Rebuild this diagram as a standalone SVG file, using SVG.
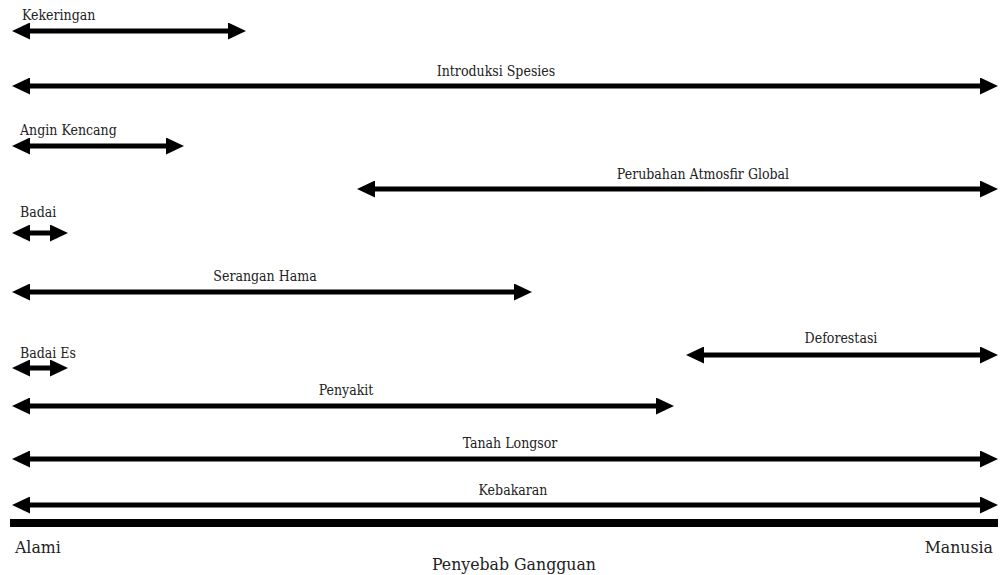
<svg xmlns="http://www.w3.org/2000/svg" width="1006" height="575" viewBox="0 0 1006 575">
<defs>
<marker id="ah" viewBox="0 0 18 17" refX="8" refY="8.5" markerWidth="18" markerHeight="17" markerUnits="userSpaceOnUse" orient="auto-start-reverse">
<path d="M0,0 L18,8.5 L0,17 z" fill="#000"/>
</marker>
<style>
.arr{stroke:#000;stroke-width:5;fill:none;marker-start:url(#ah);marker-end:url(#ah)}
.lb{font-family:"DejaVu Serif","Liberation Serif",serif;font-stretch:condensed;font-size:14px;fill:#222}
.ax{font-family:"DejaVu Serif","Liberation Serif",serif;font-stretch:condensed;font-size:17.5px;fill:#222}
.c{text-anchor:middle}
</style>
</defs>
<rect width="1006" height="575" fill="#fff"/>
<g id="connectors">
<line class="arr" x1="22" y1="31" x2="236" y2="31"/>
<line class="arr" x1="22" y1="86" x2="988" y2="86"/>
<line class="arr" x1="22" y1="146" x2="174" y2="146"/>
<line class="arr" x1="367" y1="189" x2="988" y2="189"/>
<line class="arr" x1="22" y1="233" x2="58" y2="233"/>
<line class="arr" x1="22" y1="292" x2="522" y2="292"/>
<line class="arr" x1="22" y1="368" x2="58" y2="368"/>
<line class="arr" x1="696" y1="355" x2="988" y2="355"/>
<line class="arr" x1="22" y1="406" x2="664" y2="406"/>
<line class="arr" x1="22" y1="459" x2="988" y2="459"/>
<line class="arr" x1="22" y1="505" x2="988" y2="505"/>
</g>
<g id="axis">
<line x1="10" y1="523" x2="998" y2="523" stroke="#000" stroke-width="8"/>
<text class="ax" x="15" y="553">Alami</text>
<text class="ax" x="993" y="553" text-anchor="end">Manusia</text>
<text class="ax c" x="514" y="570">Penyebab Gangguan</text>
</g>
<g id="n-kekeringan"><text class="lb" x="22" y="20">Kekeringan</text></g>
<g id="n-introduksi"><text class="lb c" x="496" y="76">Introduksi Spesies</text></g>
<g id="n-angin"><text class="lb" x="20" y="135">Angin Kencang</text></g>
<g id="n-atmosfir"><text class="lb c" x="703" y="179">Perubahan Atmosfir Global</text></g>
<g id="n-badai"><text class="lb" x="20" y="217">Badai</text></g>
<g id="n-hama"><text class="lb c" x="265" y="281">Serangan Hama</text></g>
<g id="n-badaies"><text class="lb" x="20" y="358">Badai Es</text></g>
<g id="n-deforestasi"><text class="lb c" x="841" y="343">Deforestasi</text></g>
<g id="n-penyakit"><text class="lb c" x="346" y="395">Penyakit</text></g>
<g id="n-longsor"><text class="lb c" x="510" y="448">Tanah Longsor</text></g>
<g id="n-kebakaran"><text class="lb c" x="513" y="495">Kebakaran</text></g>
</svg>
